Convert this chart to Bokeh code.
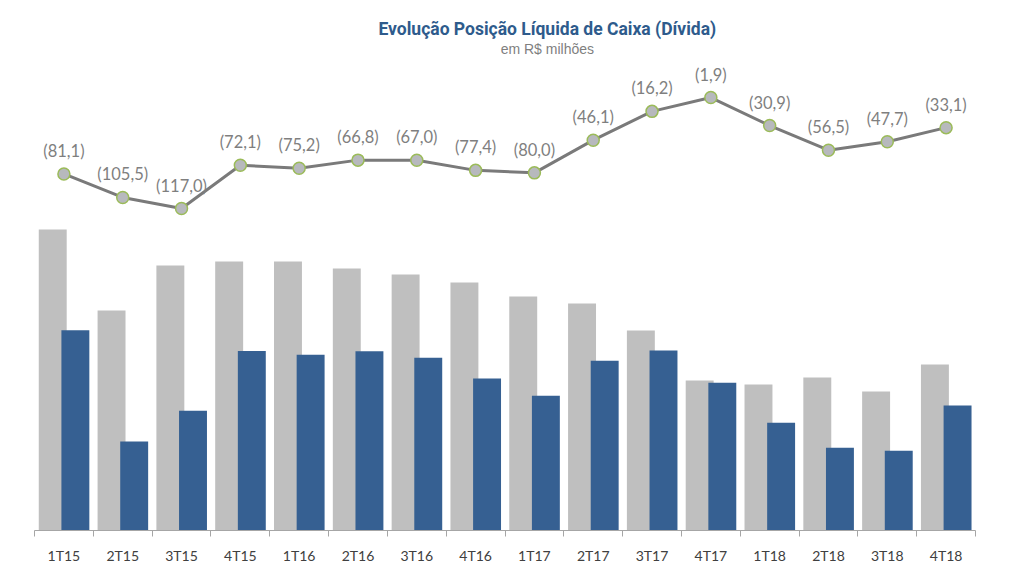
import numpy as np
from bokeh.plotting import figure
from bokeh.models import (ColumnDataSource, Range1d, LinearAxis, FixedTicker, Label)
from bokeh.core.properties import value
from bokeh.transform import dodge
from bokeh.embed import file_html
from bokeh.resources import INLINE

# ---- data ----
categories = ["1T15", "2T15", "3T15", "4T15", "1T16", "2T16", "3T16", "4T16",
              "1T17", "2T17", "3T17", "4T17", "1T18", "2T18", "3T18", "4T18"]
divida = [242.6, 177.3, 213.6, 216.8, 216.8, 211.2, 206.3, 199.9,
          188.6, 183.0, 161.2, 120.9, 117.7, 123.3, 112.0, 133.8]
caixa = [161.5, 71.8, 96.6, 144.7, 141.6, 144.4, 139.3, 122.5,
         108.6, 136.9, 145.0, 119.0, 86.8, 66.8, 64.3, 100.7]
posicao_liquida = [-81.1, -105.5, -117.0, -72.1, -75.2, -66.8, -67.0, -77.4,
                   -80.0, -46.1, -16.2, -1.9, -30.9, -56.5, -47.7, -33.1]
title_text = "Evolução Posição Líquida de Caixa (Dívida)"
subtitle_text = "em R$ milhões"

n = len(categories)
centers = np.arange(n) + 0.5

def fmt(v):
    s = f"{abs(v):.1f}".replace(".", ",")
    return f"({s})" if v < 0 else s

src = ColumnDataSource(dict(
    x=centers,
    divida=divida,
    caixa=caixa,
    pl=posicao_liquida,
    lbl=[fmt(v) for v in posicao_liquida],
))

p = figure(width=1016, height=570, output_backend="svg", toolbar_location=None,
           x_range=Range1d(0, n), y_range=Range1d(0, 427.2),
           min_border_left=34, min_border_right=41, min_border_top=0,
           min_border_bottom=40, outline_line_color=None,
           x_axis_type=None, y_axis_type=None)
p.grid.visible = False
p.background_fill_color = "white"
p.border_fill_color = "white"

p.extra_y_ranges = {"line": Range1d(-451.0, 98.8)}

GREY = "#bfbfbf"
BLUE = "#366092"

p.vbar(x=dodge("x", -0.19), top="divida", bottom=0, width=0.475, source=src,
       fill_color=GREY, line_color=None)
p.vbar(x=dodge("x", 0.195), top="caixa", bottom=0, width=0.475, source=src,
       fill_color=BLUE, line_color=None)

p.line(x="x", y="pl", source=src, y_range_name="line",
       line_color="#7a7a7a", line_width=3)
p.scatter(x="x", y="pl", source=src, y_range_name="line", size=12,
          fill_color="#b7b9bd", line_color="#9bbb59", line_width=1.5)
p.text(x="x", y="pl", text="lbl", source=src, y_range_name="line",
       text_align="center", text_baseline="middle", y_offset=-23,
       text_font=value("Lato"), text_font_size="16.5px", text_color="#7f7f7f")

# x axis: labels at category centres, tick marks at category boundaries
ax = LinearAxis(ticker=FixedTicker(ticks=list(centers), minor_ticks=list(range(n + 1))))
ax.major_label_overrides = {float(c): cat for c, cat in zip(centers, categories)}
ax.major_tick_line_color = None
ax.major_tick_out = 0
ax.major_tick_in = 0
ax.minor_tick_line_color = "#a6a6a6"
ax.minor_tick_out = 6
ax.minor_tick_in = 0
ax.axis_line_color = "#a6a6a6"
ax.major_label_standoff = 10
ax.major_label_text_font = "Lato"
ax.major_label_text_font_size = "14px"
ax.major_label_text_color = "#404040"
p.add_layout(ax, "below")

p.add_layout(Label(x=8.72, y=404.6, text=title_text, text_align="center",
                   text_baseline="middle", text_font="Roboto",
                   text_font_style="bold", text_font_size="17.5px",
                   text_color="#2e5b8c"))
p.add_layout(Label(x=8.72, y=388.0, text=subtitle_text, text_align="center",
                   text_baseline="middle", text_font="Liberation Sans",
                   text_font_size="14px", text_color="#7f7f7f"))

open("out.html", "w").write(file_html(p, INLINE))
